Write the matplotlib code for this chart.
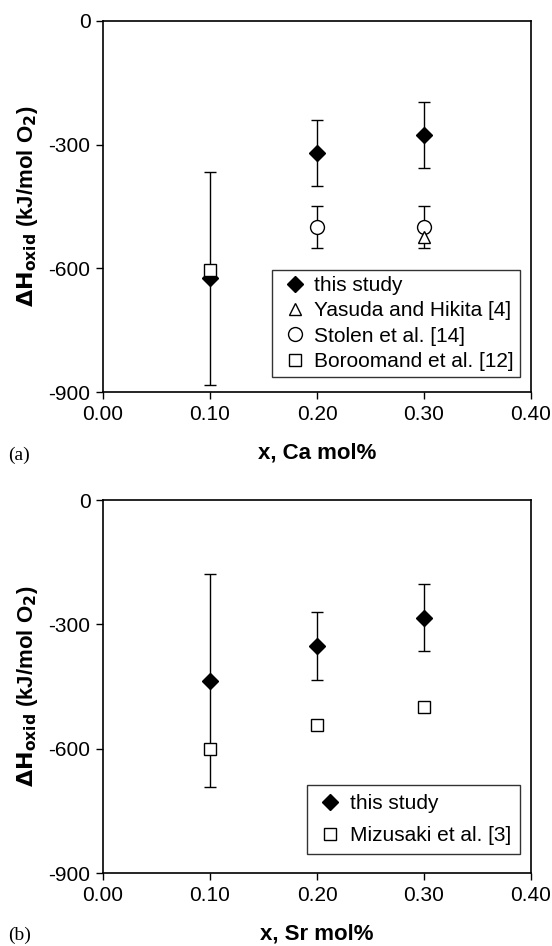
import matplotlib
matplotlib.use("Agg")
import matplotlib.pyplot as plt
from matplotlib.lines import Line2D

plt.rcParams['font.family'] = ['Liberation Sans', 'DejaVu Sans']

# Panel (a): Ca
ca_x = [0.10, 0.20, 0.30]
ca_this = [-624, -321, -277]
ca_this_err = [258, 80, 80]
yasuda_x = [0.30]
yasuda_y = [-525]
stolen_x = [0.20, 0.30]
stolen_y = [-500, -500]
stolen_err = [50, 50]
boro_x = [0.10]
boro_y = [-603]

# Panel (b): Sr
sr_x = [0.10, 0.20, 0.30]
sr_this = [-436, -353, -284]
sr_this_err = [257, 82, 81]
miz_x = [0.10, 0.20, 0.30]
miz_y = [-602, -543, -499]

xticks = [0.00, 0.10, 0.20, 0.30, 0.40]
yticks = [0, -300, -600, -900]

fig = plt.figure(figsize=(5.52, 9.46), dpi=100)
W, H = 552, 946
ax1 = fig.add_axes([103 / W, 1 - 392 / H, 428 / W, 371 / H])
ax2 = fig.add_axes([103 / W, 1 - 873 / H, 428 / W, 373 / H])

ekw = dict(ecolor='black', elinewidth=1.0, capsize=4.5, capthick=1.0, linestyle='none')

st_d = dict(marker='D', ms=8.5, mfc='black', mec='black', mew=1.0)
st_o = dict(marker='o', ms=10, mfc='white', mec='black', mew=1.0)
st_t = dict(marker='^', ms=8, mfc='white', mec='black', mew=1.0)
st_s = dict(marker='s', ms=9, mfc='white', mec='black', mew=1.0)

FS = 15

# panel a
ax1.errorbar(ca_x, ca_this, yerr=ca_this_err, zorder=3, **st_d, **ekw)
ax1.errorbar(stolen_x, stolen_y, yerr=stolen_err, zorder=3, **st_o, **ekw)
ax1.plot(yasuda_x, yasuda_y, linestyle='none', zorder=4, **st_t)
ax1.plot(boro_x, boro_y, linestyle='none', zorder=5, **st_s)

h1 = [Line2D([], [], linestyle='none', **st_d), Line2D([], [], linestyle='none', **st_t),
      Line2D([], [], linestyle='none', **st_o), Line2D([], [], linestyle='none', **st_s)]
l1 = ['this study', 'Yasuda and Hikita [4]', 'Stolen et al. [14]', 'Boroomand et al. [12]']
ax1.legend(h1, l1, loc='lower right', bbox_to_anchor=(0.975, 0.04), frameon=True,
           fancybox=False, edgecolor='black', fontsize=FS, handletextpad=0.15,
           handlelength=1.6, borderpad=0.3, labelspacing=0.3, borderaxespad=0.0)

# panel b
ax2.errorbar(sr_x, sr_this, yerr=sr_this_err, zorder=3, **st_d, **ekw)
ax2.plot(miz_x, miz_y, linestyle='none', zorder=5, **st_s)
h2 = [Line2D([], [], linestyle='none', **st_d), Line2D([], [], linestyle='none', **st_s)]
l2 = ['this study', 'Mizusaki et al. [3]']
ax2.legend(h2, l2, loc='lower right', bbox_to_anchor=(0.975, 0.05), frameon=True,
           fancybox=False, edgecolor='black', fontsize=FS, handletextpad=0.3,
           handlelength=1.3, borderpad=0.45, labelspacing=0.6, borderaxespad=0.0)

for ax, xl in ((ax1, 'x, Ca mol%'), (ax2, 'x, Sr mol%')):
    ax.set_xlim(0, 0.40)
    ax.set_ylim(-900, 0)
    ax.set_xticks(xticks)
    ax.set_xticklabels([f'{v:.2f}' for v in xticks])
    ax.set_yticks(yticks)
    ax.set_yticklabels([str(v) for v in yticks])
    ax.tick_params(direction='out', length=5, width=1.0, labelsize=FS, pad=4,
                   top=False, right=False)
    for s in ax.spines.values():
        s.set_linewidth(1.2)
    ax.set_xlabel(xl, fontsize=16, fontweight='bold', labelpad=14)
    ax.set_ylabel(r'$\mathbf{\Delta H_{oxid}}$ (kJ/mol O$_\mathbf{2}$)', fontsize=16,
                  fontweight='bold', labelpad=6)

fig.text(8 / W, 1 - 455 / H, '(a)', family='Liberation Serif', fontsize=14, va='center')
fig.text(8 / W, 1 - 935 / H, '(b)', family='Liberation Serif', fontsize=14, va='center')

fig.savefig('out.png', dpi=100)
